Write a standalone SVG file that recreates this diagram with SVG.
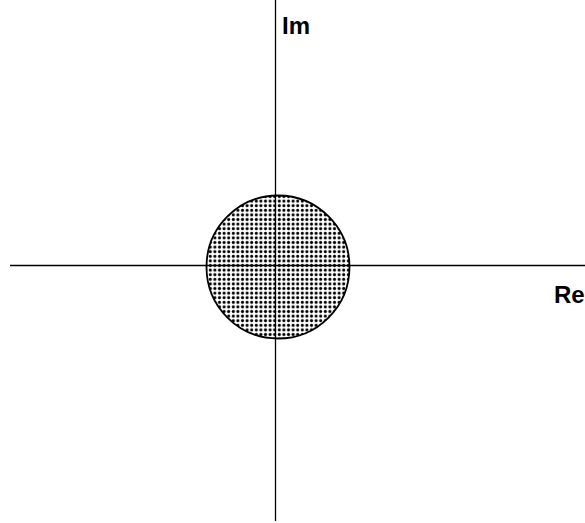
<svg xmlns="http://www.w3.org/2000/svg" width="585" height="523" viewBox="0 0 585 523">
<style>
.axis{stroke:#000;stroke-width:1.3;fill:none}
.lbl{font-family:"Liberation Sans",Arial,sans-serif;font-size:24px;font-weight:bold;fill:#000}
</style>
<defs>
<pattern id="dots" patternUnits="userSpaceOnUse" x="1" y="1" width="4.6" height="4.6">
<rect width="4.6" height="4.6" fill="#fff"/>
<circle cx="2.3" cy="2.3" r="1.55" fill="#000"/>
</pattern>
</defs>
<rect width="585" height="523" fill="#fff"/>
<g id="disk">
<circle cx="278" cy="267" r="71.5" fill="url(#dots)" stroke="#000" stroke-width="1.8"/>
</g>
<g id="axes">
<line class="axis" x1="10" y1="265.5" x2="585" y2="265.5"/>
<line class="axis" x1="275.5" y1="0" x2="275.5" y2="521"/>
</g>
<g id="labels">
<text class="lbl" x="282" y="34">Im</text>
<text class="lbl" x="554" y="303">Re</text>
</g>
</svg>
